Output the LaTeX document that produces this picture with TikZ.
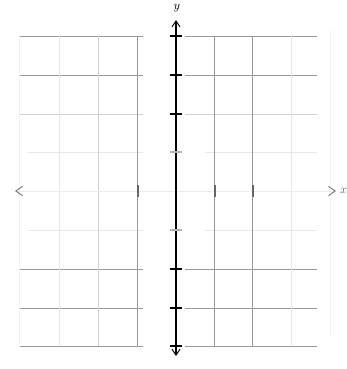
\documentclass[tikz,border=0pt]{standalone}
\usetikzlibrary{arrows.meta}

\tikzset{every picture/.style={line width=0.75pt}}
\tikzset{
  gridmid/.style={draw=black!40, line width=0.75pt},
  gridlow/.style={draw=black!18, line width=0.75pt},
  gridfaint/.style={draw=black!9, line width=0.75pt},
  axistick/.style={draw=black, line width=0.8pt},
  xtick/.style={draw=black!60, line width=0.9pt},
  axislabel/.style={inner sep=0pt, font=\small},
}

\begin{document}
\begin{tikzpicture}[x=0.75pt,y=0.75pt,yscale=-1,xscale=1]
\useasboundingbox (0,0) rectangle (347,369);

%Horizontal grid lines, left half
\draw [gridmid]   (20,36) -- (143,36) ;
\draw [gridmid]   (20,75) -- (143,75) ;
\draw [gridlow]   (20,114) -- (143,114) ;
\draw [gridfaint] (28,152) -- (143,152) ;
\draw [gridfaint] (28,230) -- (143,230) ;
\draw [gridmid]   (20,269) -- (143,269) ;
\draw [gridmid]   (20,308) -- (143,308) ;
\draw [gridmid]   (20,346) -- (143,346) ;
%Horizontal grid lines, right half
\draw [gridmid]   (185,36) -- (317,36) ;
\draw [gridmid]   (185,75) -- (317,75) ;
\draw [gridlow]   (185,114) -- (317,114) ;
\draw [gridfaint] (205,152) -- (317,152) ;
\draw [gridfaint] (205,230) -- (317,230) ;
\draw [gridmid]   (185,269) -- (317,269) ;
\draw [gridmid]   (185,308) -- (317,308) ;
\draw [gridmid]   (185,346) -- (317,346) ;

%Vertical grid lines
\draw [draw=black!6]  (20,36) -- (20,346) ;
\draw [gridfaint]     (60,36) -- (60,346) ;
\draw [gridlow]       (99,36) -- (99,346) ;
\draw [gridmid]       (138,36) -- (138,346) ;
\draw [gridmid]       (215,36) -- (215,346) ;
\draw [gridmid]       (253,36) -- (253,346) ;
\draw [gridfaint]     (292,36) -- (292,346) ;
\draw [draw=black!5]  (331,30) -- (331,336) ;

%x axis
\coordinate (xleft) at (15,191) ;
\coordinate (xright) at (336,191) ;
\draw [draw=black!8, {Straight Barb[length=5pt,width=7pt,color=black!50]}-{Straight Barb[length=5pt,width=7pt,color=black!50]}] (xleft) -- (xright) ;
\node [axislabel, anchor=west, text=black!60] (xlabel) at (339.5,191) {$x$};

%x ticks
\draw [xtick] (138,185) -- (138,197) ;
\draw [xtick] (215,185) -- (215,197) ;
\draw [xtick] (253,185) -- (253,197) ;

%y axis
\coordinate (ybot) at (176,356) ;
\coordinate (ytop) at (176,20) ;
\draw [line width=1.3pt, {Straight Barb[length=4.5pt,width=6pt,line width=0.7pt]}-{Straight Barb[length=4.5pt,width=6pt,line width=0.7pt]}] (ybot) -- (ytop) ;
\node [axislabel] (ylabel) at (177,8) {$y$};

%y ticks
\draw [axistick] (170,36) -- (182,36) ;
\draw [axistick] (170,75) -- (182,75) ;
\draw [axistick] (170,114) -- (182,114) ;
\draw [axistick, draw=black!30] (170,152) -- (182,152) ;
\draw [axistick, draw=black!30] (170,230) -- (182,230) ;
\draw [axistick] (170,269) -- (182,269) ;
\draw [axistick] (170,308) -- (182,308) ;
\draw [axistick] (170,346) -- (182,346) ;

\end{tikzpicture}
\end{document}
